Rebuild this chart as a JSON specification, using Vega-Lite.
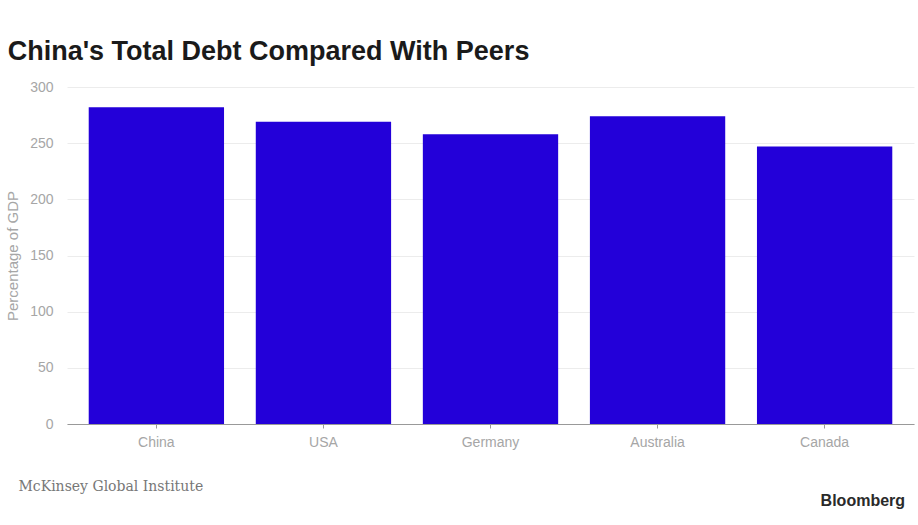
{
  "$schema": "https://vega.github.io/schema/vega-lite/v6.json",
  "width": 847,
  "height": 337,
  "autosize": "none",
  "padding": {"left": 67, "top": 87, "right": 4, "bottom": 101},
  "background": "white",
  "title": {
    "text": "China's Total Debt Compared With Peers",
    "anchor": "start",
    "offset": 14,
    "dx": 2,
    "font": "Liberation Sans",
    "fontSize": 27,
    "fontWeight": "bold",
    "color": "#1a1a1a"
  },
  "config": {
    "view": {"stroke": null},
    "axis": {"labelFont": "Liberation Sans", "titleFont": "Liberation Sans"}
  },
  "data": {
    "values": [
      {"country": "China", "debt": 282},
      {"country": "USA", "debt": 269},
      {"country": "Germany", "debt": 258},
      {"country": "Australia", "debt": 274},
      {"country": "Canada", "debt": 247}
    ]
  },
  "layer": [
    {
      "mark": {"type": "bar", "color": "#2300d9"},
      "encoding": {
        "x": {
          "field": "country",
          "type": "nominal",
          "sort": null,
          "scale": {"paddingInner": 0.19, "paddingOuter": 0.13},
          "axis": {
            "title": "McKinsey Global Institute",
            "titleFont": "DejaVu Serif",
            "titleFontSize": 14,
            "titleFontWeight": "normal",
            "titleColor": "#777777",
            "titleAnchor": "start",
            "titleAlign": "left",
            "titleX": -49,
            "titleY": 66,
            "titleBaseline": "alphabetic",
            "labelAngle": 0,
            "labelFontSize": 14,
            "labelColor": "#a6a6a6",
            "labelPadding": 7,
            "domainColor": "#999999",
            "tickColor": "#999999",
            "tickSize": 4
          }
        },
        "y": {
          "field": "debt",
          "type": "quantitative",
          "scale": {"domain": [0, 300]},
          "axis": {
            "title": "Percentage of GDP",
            "titleFontSize": 15,
            "titleFontWeight": "normal",
            "titleColor": "#a6a6a6",
            "titlePadding": 9,
            "values": [0, 50, 100, 150, 200, 250, 300],
            "labelFontSize": 14,
            "labelColor": "#a6a6a6",
            "labelPadding": 14,
            "domain": false,
            "ticks": false,
            "gridColor": "#ececec"
          }
        }
      }
    },
    {
      "data": {"values": [{"label": "Bloomberg"}]},
      "mark": {
        "type": "text",
        "align": "left",
        "baseline": "alphabetic",
        "dx": -4,
        "font": "Liberation Sans",
        "fontSize": 16,
        "fontWeight": "bold",
        "color": "#2a2a2a"
      },
      "encoding": {
        "x": {"datum": "Canada"},
        "y": {"datum": -73},
        "text": {"field": "label"}
      }
    }
  ]
}
